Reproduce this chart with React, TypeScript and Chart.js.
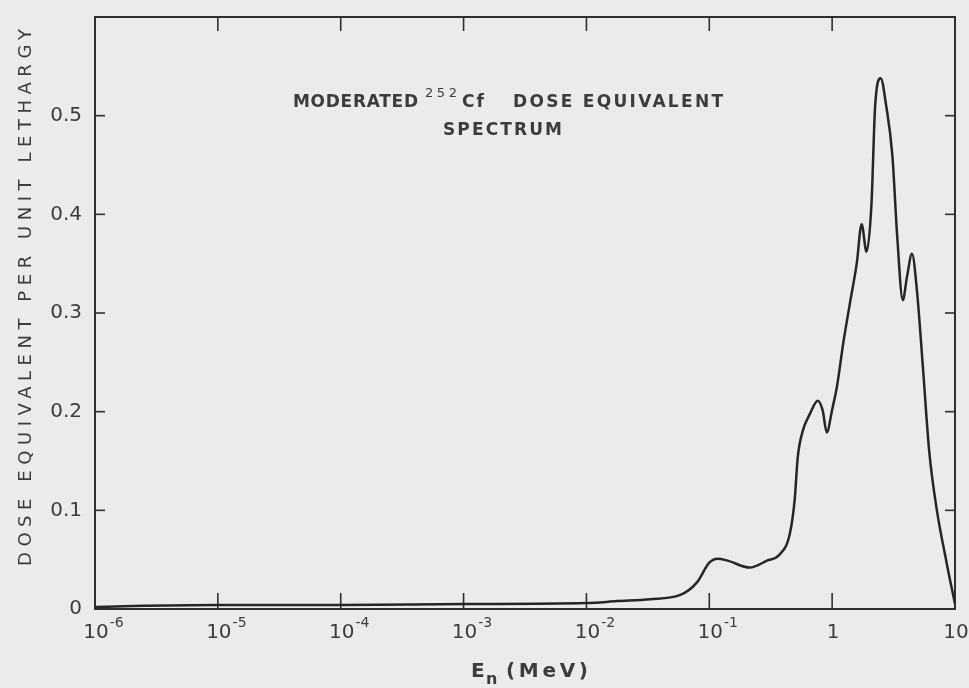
import React, { useEffect, useRef } from 'react';
import { Chart, registerables } from 'chart.js';

Chart.register(...registerables);

// Neutron energy (MeV) and dose equivalent per unit lethargy
const energyMeV = [
  1e-6, 2e-6, 1e-5, 1e-4, 1e-3, 1e-2, 0.0178, 0.0331, 0.0575, 0.0794,
  0.1, 0.1175, 0.141, 0.214, 0.295, 0.372, 0.452, 0.495, 0.525, 0.575,
  0.661, 0.764, 0.838, 0.904, 1.0, 1.096, 1.23, 1.396, 1.585, 1.738,
  1.905, 2.089, 2.239, 2.483, 2.754, 3.09, 3.388, 3.758, 4.07, 4.467,
  4.898, 5.495, 6.166, 7.08, 8.51, 10,
];
const doseEquivalent = [
  0.002, 0.003, 0.004, 0.004, 0.005, 0.006, 0.008, 0.010, 0.014, 0.027,
  0.047, 0.051, 0.049, 0.042, 0.049, 0.055, 0.076, 0.110, 0.154, 0.180,
  0.198, 0.211, 0.201, 0.179, 0.202, 0.226, 0.269, 0.310, 0.350, 0.390,
  0.362, 0.410, 0.510, 0.538, 0.510, 0.460, 0.377, 0.313, 0.337, 0.360,
  0.323, 0.243, 0.160, 0.102, 0.048, 0.005,
];

const xTickValues = [1e-6, 1e-5, 1e-4, 1e-3, 1e-2, 1e-1, 1, 10];
const xTickBase = ['10', '10', '10', '10', '10', '10', '1', '10'];
const xTickExp = ['-6', '-5', '-4', '-3', '-2', '-1', '', ''];
const yTickValues = [0, 0.1, 0.2, 0.3, 0.4, 0.5];
const yTickLabels = ['0', '0.1', '0.2', '0.3', '0.4', '0.5'];

const titleMain = 'MODERATED';
const titleIsotope = '252';
const titleElement = 'Cf';
const titleRest = 'DOSE EQUIVALENT';
const titleLine2 = 'SPECTRUM';
const yTitle = 'DOSE EQUIVALENT PER UNIT LETHARGY';
const xTitleMain = 'E';
const xTitleSub = 'n';
const xTitleUnit = '(MeV)';

const INK = '#2f2f2f';
const TEXT = '#3c3c3c';
const FONT = '"DejaVu Sans", sans-serif';

function fitText(ctx: CanvasRenderingContext2D, text: string, x0: number, x1: number, y: number, font: string) {
  ctx.font = font;
  (ctx as any).letterSpacing = '0px';
  const w = ctx.measureText(text).width;
  const n = Math.max(1, text.length - 1);
  const ls = (x1 - x0 - w) / n;
  (ctx as any).letterSpacing = ls + 'px';
  ctx.textAlign = 'left';
  ctx.fillText(text, x0, y);
  (ctx as any).letterSpacing = '0px';
}

const decor = {
  id: 'decor',
  beforeDatasetsDraw(chart: any) {
    const { ctx, chartArea: a, scales } = chart;
    const xs = scales.x;
    const ys = scales.y;
    ctx.save();
    ctx.strokeStyle = INK;
    ctx.lineWidth = 2;
    ctx.strokeRect(a.left, a.top, a.right - a.left, a.bottom - a.top);
    ctx.lineWidth = 1.6;
    const seg = (x1: number, y1: number, x2: number, y2: number) => {
      ctx.beginPath();
      ctx.moveTo(x1, y1);
      ctx.lineTo(x2, y2);
      ctx.stroke();
    };
    xTickValues.forEach((v) => {
      const px = xs.getPixelForValue(v);
      if (px > a.left + 1 && px < a.right - 1) {
        seg(px, a.bottom, px, a.bottom - 16);
        seg(px, a.top, px, a.top + 14);
      }
    });
    yTickValues.forEach((v) => {
      if (v <= 0) return;
      const py = ys.getPixelForValue(v);
      seg(a.left, py, a.left + 10, py);
      seg(a.right, py, a.right - 10, py);
    });
    ctx.restore();
  },
  afterDraw(chart: any) {
    const { ctx, chartArea: a, scales } = chart;
    const xs = scales.x;
    ctx.save();
    ctx.fillStyle = TEXT;
    ctx.textBaseline = 'alphabetic';

    // x tick labels with superscript exponents
    xTickValues.forEach((v, i) => {
      const px = xs.getPixelForValue(v);
      ctx.font = `20px ${FONT}`;
      ctx.textAlign = 'center';
      const base = xTickBase[i];
      const bw = ctx.measureText(base).width;
      ctx.fillText(base, px + 1, a.bottom + 29);
      if (xTickExp[i]) {
        ctx.font = `14px ${FONT}`;
        ctx.textAlign = 'left';
        ctx.fillText(xTickExp[i], px + 1 + bw / 2 + 1, a.bottom + 18);
      }
    });

    // Title inside plot
    fitText(ctx, titleMain, 293, 418, 107, `bold 17px ${FONT}`);
    fitText(ctx, titleIsotope, 425, 457, 97, `13px ${FONT}`);
    fitText(ctx, titleElement, 462, 484, 107, `bold 17px ${FONT}`);
    fitText(ctx, titleRest, 513, 723, 107, `bold 17px ${FONT}`);
    fitText(ctx, titleLine2, 443, 562, 135, `bold 17px ${FONT}`);

    // x axis title
    fitText(ctx, xTitleMain, 471, 483, 677, `bold 20px ${FONT}`);
    ctx.font = `bold 16px ${FONT}`;
    ctx.textAlign = 'left';
    ctx.fillText(xTitleSub, 486, 684);
    fitText(ctx, xTitleUnit, 506, 588, 677, `bold 20px ${FONT}`);

    // y axis title (rotated)
    ctx.save();
    ctx.translate(31, 0);
    ctx.rotate(-Math.PI / 2);
    fitText(ctx, yTitle, -566, -29, 0, `18px ${FONT}`);
    ctx.restore();

    ctx.restore();
  },
};

export default function App() {
  const canvasRef = useRef<HTMLCanvasElement | null>(null);

  useEffect(() => {
    const canvas = canvasRef.current;
    if (!canvas) return;
    const data = energyMeV.map((e, i) => ({ x: e, y: doseEquivalent[i] }));
    const chart = new Chart(canvas, {
      type: 'line',
      data: {
        datasets: [
          {
            data,
            borderColor: '#262626',
            borderWidth: 2.5,
            pointRadius: 0,
            fill: false,
            cubicInterpolationMode: 'monotone',
          },
        ],
      },
      options: {
        responsive: false,
        animation: false,
        devicePixelRatio: 1,
        layout: { padding: { top: 8, right: 14, left: 0, bottom: 0 } },
        plugins: { legend: { display: false }, tooltip: { enabled: false } },
        scales: {
          x: {
            type: 'logarithmic',
            min: 1e-6,
            max: 10,
            position: 'bottom',
            grid: { display: false },
            border: { display: false },
            ticks: { display: false },
            afterFit: (s: any) => {
              s.height = 79;
            },
          },
          y: {
            type: 'linear',
            min: 0,
            max: 0.6,
            grid: { display: false },
            border: { display: false },
            afterBuildTicks: (s: any) => {
              s.ticks = yTickValues.map((v) => ({ value: v }));
            },
            ticks: {
              padding: 5,
              color: TEXT,
              font: { family: FONT, size: 20 },
              callback: (v: any) => {
                const idx = yTickValues.findIndex((t) => Math.abs(t - Number(v)) < 1e-9);
                return idx >= 0 ? yTickLabels[idx] : '';
              },
            },
            afterFit: (s: any) => {
              s.width = 95;
            },
          },
        },
      },
      plugins: [decor],
    } as any);
    return () => chart.destroy();
  }, []);

  return (
    <div style={{ position: 'absolute', left: 0, top: 0, width: 969, height: 688, background: '#ebebe9' }}>
      <canvas ref={canvasRef} width={969} height={688} style={{ display: 'block' }} />
    </div>
  );
}
